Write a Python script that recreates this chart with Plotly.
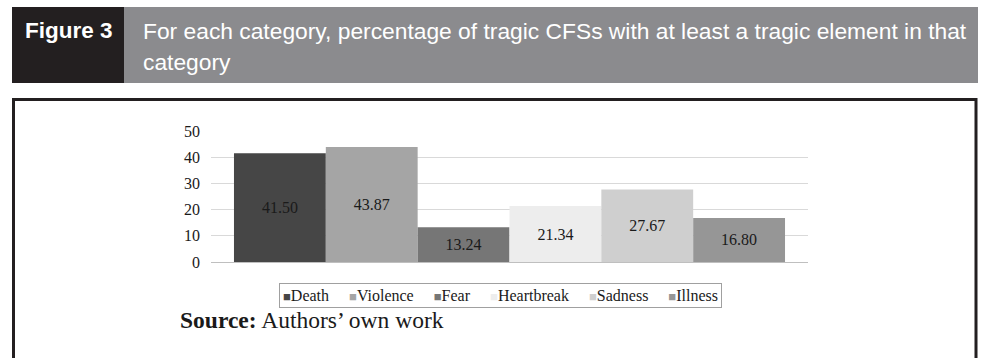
import plotly.graph_objects as go

categories = ["Death", "Violence", "Fear", "Heartbreak", "Sadness", "Illness"]
values = [41.50, 43.87, 13.24, 21.34, 27.67, 16.80]
colors = ["#464646", "#a5a5a5", "#767676", "#ededed", "#cfcfcf", "#969696"]
y_ticks = [0, 10, 20, 30, 40, 50]

W, H = 987, 358
def px(x):
    return x / W
def py(y):
    return 1 - y / H

serif = "Liberation Serif, Times New Roman, serif"
sans = "Liberation Sans, Arial, Helvetica, sans-serif"

fig = go.Figure()
for name, val, col in zip(categories, values, colors):
    fig.add_trace(go.Bar(
        x=[""], y=[val], name=name, marker=dict(color=col, line=dict(width=0)),
        texttemplate="%{y:.2f}", textposition="inside", insidetextanchor="middle",
        textangle=0, constraintext="none", showlegend=False,
        textfont=dict(family=serif, size=16, color="#1a1a1a"),
    ))

shapes = [
    dict(type="rect", xref="paper", yref="paper", x0=px(12), x1=px(124), y0=py(83), y1=py(7),
         fillcolor="#231f20", line=dict(width=0), layer="below"),
    dict(type="rect", xref="paper", yref="paper", x0=px(124), x1=px(978), y0=py(83), y1=py(7),
         fillcolor="#8b8b8e", line=dict(width=0), layer="below"),
    dict(type="rect", xref="paper", yref="paper", x0=px(13.5), x1=px(976), y0=py(380), y1=py(99.5),
         fillcolor="rgba(0,0,0,0)", line=dict(color="#231f20", width=3), layer="below"),
]

gap = "&nbsp;" * 5
legend_text = gap.join(
    f"<span style='color:{c};font-size:13px'>\u25a0</span>{n}" for n, c in zip(categories, colors)
)

annotations = [
    dict(text="<b>Figure 3</b>", xref="paper", yref="paper", x=px(68.5), y=py(31),
         xanchor="center", yanchor="middle", showarrow=False,
         font=dict(family=sans, size=22.5, color="white")),
    dict(text="For each category, percentage of tragic CFSs with at least a tragic element in that",
         xref="paper", yref="paper", x=px(141), y=py(31), xanchor="left", yanchor="middle",
         align="left", showarrow=False,
         font=dict(family=sans, size=22.8, color="white")),
    dict(text="category",
         xref="paper", yref="paper", x=px(141), y=py(62), xanchor="left", yanchor="middle",
         align="left", showarrow=False,
         font=dict(family=sans, size=22.8, color="white")),
    dict(text=legend_text, xref="paper", yref="paper", x=px(500), y=py(295),
         xanchor="center", yanchor="middle", showarrow=False,
         bordercolor="#a0a0a0", borderwidth=1, borderpad=3,
         font=dict(family=serif, size=16, color="#1a1a1a")),
    dict(text="<b>Source:</b> Authors\u2019 own work", xref="paper", yref="paper",
         x=px(178), y=py(320), xanchor="left", yanchor="middle", showarrow=False,
         font=dict(family=serif, size=23.5, color="#1a1a1a")),
]

fig.update_layout(
    width=W, height=H, margin=dict(l=0, r=0, t=0, b=0),
    paper_bgcolor="white", plot_bgcolor="white",
    barmode="group", bargap=0.077, bargroupgap=0,
    showlegend=False,
    xaxis=dict(domain=[px(211), px(808)], showticklabels=False, showgrid=False, zeroline=False,
               showline=False, automargin=False),
    yaxis=dict(domain=[py(262), py(131)], range=[0, 50], tickvals=y_ticks, showgrid=True,
               gridcolor="#d9d9d9", gridwidth=1, zeroline=True, zerolinecolor="#bfbfbf",
               zerolinewidth=1, showline=False, ticks="", automargin=False,
               ticklabelstandoff=10,
               tickfont=dict(family=serif, size=16, color="#1a1a1a")),
    shapes=shapes, annotations=annotations,
)

fig.write_html("out.html")
